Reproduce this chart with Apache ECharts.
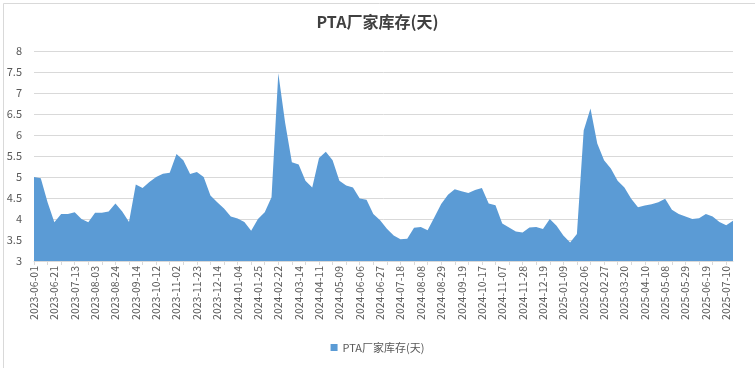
<!DOCTYPE html>
<html>
<head>
<meta charset="utf-8">
<script src="https://cdn.jsdelivr.net/npm/echarts@6/dist/echarts.min.js"></script>
<style>html,body{margin:0;padding:0;background:#fff}#c{width:755px;height:368px}</style>
</head>
<body>
<div id="c"></div>
<script>
var title = 'PTA厂家库存(天)';
var seriesName = 'PTA厂家库存(天)';
var dates = [
'2023-06-01','2023-06-08','2023-06-15','2023-06-21','2023-06-29','2023-07-06','2023-07-13','2023-07-20','2023-07-27','2023-08-03',
'2023-08-10','2023-08-17','2023-08-24','2023-08-31','2023-09-07','2023-09-14','2023-09-21','2023-09-28','2023-10-12','2023-10-19',
'2023-10-26','2023-11-02','2023-11-09','2023-11-16','2023-11-23','2023-11-30','2023-12-07','2023-12-14','2023-12-21','2023-12-28',
'2024-01-04','2024-01-11','2024-01-18','2024-01-25','2024-02-01','2024-02-08','2024-02-22','2024-02-29','2024-03-07','2024-03-14',
'2024-03-21','2024-03-28','2024-04-11','2024-04-18','2024-04-25','2024-05-09','2024-05-16','2024-05-23','2024-06-06','2024-06-13',
'2024-06-20','2024-06-27','2024-07-04','2024-07-11','2024-07-18','2024-07-25','2024-08-01','2024-08-08','2024-08-15','2024-08-22',
'2024-08-29','2024-09-05','2024-09-12','2024-09-19','2024-09-26','2024-10-10','2024-10-17','2024-10-24','2024-10-31','2024-11-07',
'2024-11-14','2024-11-21','2024-11-28','2024-12-05','2024-12-12','2024-12-19','2024-12-26','2025-01-02','2025-01-09','2025-01-16',
'2025-01-23','2025-02-06','2025-02-13','2025-02-20','2025-02-27','2025-03-06','2025-03-13','2025-03-20','2025-03-27','2025-04-03',
'2025-04-10','2025-04-17','2025-04-24','2025-05-08','2025-05-15','2025-05-22','2025-05-29','2025-06-05','2025-06-12','2025-06-19',
'2025-06-26','2025-07-03','2025-07-10','2025-07-17'
];
var values = [
5.00,4.97,4.40,3.92,4.12,4.12,4.16,4.00,3.92,4.15,
4.15,4.18,4.37,4.18,3.93,4.82,4.74,4.88,5.00,5.08,
5.10,5.55,5.40,5.07,5.12,5.00,4.56,4.40,4.25,4.06,
4.01,3.93,3.72,4.00,4.16,4.52,7.47,6.30,5.35,5.30,
4.91,4.75,5.45,5.60,5.40,4.91,4.80,4.75,4.49,4.46,
4.12,3.97,3.77,3.61,3.52,3.53,3.79,3.81,3.73,4.04,
4.36,4.58,4.71,4.66,4.62,4.69,4.74,4.37,4.33,3.89,
3.80,3.70,3.68,3.80,3.81,3.76,4.00,3.84,3.61,3.44,
3.64,6.11,6.63,5.80,5.40,5.20,4.91,4.75,4.48,4.28,
4.32,4.35,4.40,4.48,4.22,4.12,4.06,4.00,4.02,4.12,
4.06,3.93,3.85,3.96
];
var yTicks = ['3','3.5','4','4.5','5','5.5','6','6.5','7','7.5','8'];

var chart = echarts.init(document.getElementById('c'), null, {renderer:'canvas'});
var font = '"Noto Sans CJK SC","Noto Sans",sans-serif';
chart.setOption({
  animation:false,
  backgroundColor:'#fff',
  textStyle:{fontFamily:font},
  graphic:[{type:'rect',left:1,top:1,shape:{width:752,height:365},style:{fill:'none',stroke:'#d9d9d9',lineWidth:1},silent:true}],
  title:{text:title,left:'center',top:9,textStyle:{fontSize:16,fontWeight:'bold',color:'#404040',fontFamily:font}},
  legend:{bottom:10,left:'center',itemWidth:7,itemHeight:7,icon:'rect',itemGap:5,
    textStyle:{fontSize:11,color:'#595959',fontFamily:font},data:[seriesName]},
  grid:{left:34,right:22,top:51,bottom:107,containLabel:false},
  xAxis:{type:'category',data:dates,boundaryGap:false,
    axisLine:{lineStyle:{color:'#d9d9d9'}},
    axisTick:{interval:1,length:4,lineStyle:{color:'#d9d9d9'}},
    axisLabel:{interval:2,rotate:90,fontSize:10.5,color:'#595959',margin:5,fontFamily:font}},
  yAxis:{type:'value',min:3,max:8,interval:0.5,
    axisLine:{show:false},axisTick:{show:false},
    splitLine:{lineStyle:{color:'#d9d9d9'}},
    axisLabel:{fontSize:11,color:'#595959',margin:12,fontFamily:font,
      formatter:function(v){var s=String(Math.round(v*10)/10);return yTicks.indexOf(s)>=0?s:'';}}},
  series:[{name:seriesName,type:'line',data:values,symbol:'none',
    lineStyle:{width:0,color:'#5b9bd5'},itemStyle:{color:'#5b9bd5'},
    areaStyle:{color:'#5b9bd5',opacity:1,origin:'start'}}]
});
</script>
</body>
</html>
